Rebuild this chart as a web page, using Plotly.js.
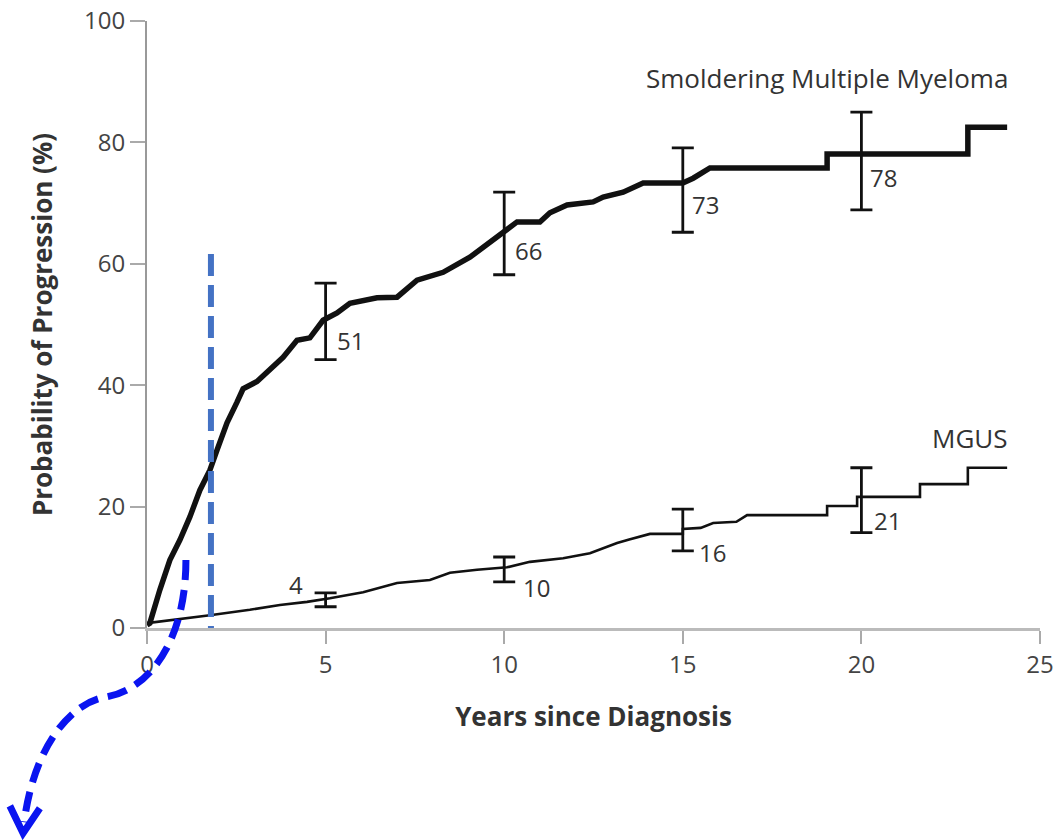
<!DOCTYPE html>
<html>
<head>
<meta charset="utf-8">
<script src="https://cdn.plot.ly/plotly-3.0.1.min.js"></script>
<style>html,body{margin:0;padding:0;background:#fff;}#chart{width:1056px;height:840px;}</style>
</head>
<body>
<div id="chart"></div>
<script>
// ---- data ----
const smmYears = [0, 0.08, 0.36, 0.64, 0.92, 1.20, 1.48, 1.76, 1.96, 2.24, 2.52, 2.69, 3.08, 3.44, 3.81, 4.20, 4.56, 4.93, 5.32, 5.68, 6.44, 7.00, 7.56, 8.29, 9.04, 9.32, 9.97, 10.36, 11.0, 11.28, 11.76, 12.49, 12.77, 13.33, 13.89, 15.0, 15.29, 15.76, 19.04, 19.04, 22.98, 22.98, 24.08];
const smmProb  = [0.5, 0.8, 6.3, 11.2, 14.5, 18.3, 22.7, 26.0, 29.3, 33.8, 37.2, 39.4, 40.6, 42.5, 44.6, 47.4, 47.8, 50.7, 51.9, 53.5, 54.4, 54.5, 57.3, 58.6, 61.1, 62.3, 65.1, 66.9, 66.9, 68.4, 69.7, 70.2, 71.0, 71.8, 73.3, 73.3, 74.1, 75.8, 75.8, 78.1, 78.1, 82.5, 82.5];

const mgusYears = [0, 0.73, 1.76, 2.88, 3.72, 4.48, 5.12, 6.05, 7.0, 7.92, 8.48, 9.24, 10.08, 10.72, 11.65, 12.4, 13.16, 13.5, 14.08, 15.0, 15.0, 15.5, 15.85, 16.5, 16.8, 19.04, 19.04, 19.88, 19.88, 21.64, 21.64, 22.98, 22.98, 24.08];
const mgusProb  = [0.8, 1.3, 2.1, 3.0, 3.8, 4.3, 4.9, 5.9, 7.4, 7.9, 9.1, 9.6, 10.0, 10.9, 11.5, 12.3, 14.0, 14.6, 15.5, 15.5, 16.3, 16.5, 17.3, 17.5, 18.6, 18.6, 20.1, 20.1, 21.6, 21.6, 23.7, 23.7, 26.4, 26.4];

const ciYears   = [5, 10, 15, 20];
const smmLabel  = [51, 66, 73, 78];
const smmUpper  = [56.8, 71.8, 79.1, 85.0];
const smmLower  = [44.2, 58.2, 65.2, 68.9];
const mgusLabel = [4, 10, 16, 21];
const mgusUpper = [5.8, 11.7, 19.6, 26.4];
const mgusLower = [3.5, 7.6, 12.7, 15.7];

const xTicks = [0, 5, 10, 15, 20, 25];
const yTicks = [0, 20, 40, 60, 80, 100];
const seriesNames = ['Smoldering Multiple Myeloma', 'MGUS'];
const seriesNameAt = [[24.1, 90.6], [24.1, 31.3]];
const markerYear = 1.79;      // dashed vertical marker
const markerTop = 61.6;
// curved arrow (in axis units), path commands
const arrowPath = [
  ['M', [1.09, 11.2]],
  ['C', [1.09, -2.0], [0.08, -10.2], [-1.18, -11.4]],
  ['C', [-2.02, -12.2], [-3.14, -18.5], [-3.44, -32.0]]
];
const arrowHead = [[-3.84, -29.3], [-3.47, -33.8], [-3.0, -29.7]];

// ---- layout ----
const FONT = 'Open Sans, Lato, sans-serif';
const xr = [0, 25], yr = [0, 100];
const toPaper = p => [(p[0] - xr[0]) / (xr[1] - xr[0]), (p[1] - yr[0]) / (yr[1] - yr[0])];
const fmt = p => { const q = toPaper(p); return q[0].toFixed(5) + ',' + q[1].toFixed(5); };
const arrowD = arrowPath.map(seg => seg[0] + ' ' + seg.slice(1).map(fmt).join(' ')).join(' ');
const headD = 'M ' + arrowHead.map(fmt).join(' L ');

const traces = [
  {x: mgusYears, y: mgusProb, mode: 'lines', line: {color: '#111', width: 2.6}, hoverinfo: 'skip'},
  {x: smmYears, y: smmProb, mode: 'lines', line: {color: '#111', width: 5.5}, hoverinfo: 'skip'},
  {x: ciYears, y: smmLabel, mode: 'markers', marker: {size: 1, opacity: 0},
   error_y: {type: 'data', symmetric: false,
     array: smmUpper.map((u, i) => u - smmLabel[i]),
     arrayminus: smmLower.map((l, i) => smmLabel[i] - l),
     color: '#111', thickness: 2.8, width: 11}},
  {x: ciYears, y: mgusLabel, mode: 'markers', marker: {size: 1, opacity: 0},
   error_y: {type: 'data', symmetric: false,
     array: mgusUpper.map((u, i) => u - mgusLabel[i]),
     arrayminus: mgusLower.map((l, i) => mgusLabel[i] - l),
     color: '#111', thickness: 2.8, width: 11}}
];

const labelFont = {family: FONT, size: 24, color: '#333'};
const annotations = [];
const smmShift = [[9, -22], [9, -23], [7, -20], [7, -23]];
const mgusShift = [[-39, 19], [17, -20], [14, -22], [11, -20]];
ciYears.forEach((yv, i) => {
  annotations.push({x: yv, y: smmLabel[i], text: String(smmLabel[i]), showarrow: false, xanchor: 'left', yanchor: 'middle', xshift: smmShift[i][0], yshift: smmShift[i][1], font: labelFont});
  annotations.push({x: yv, y: mgusLabel[i], text: String(mgusLabel[i]), showarrow: false, xanchor: 'left', yanchor: 'middle', xshift: mgusShift[i][0], yshift: mgusShift[i][1], font: labelFont});
});
seriesNames.forEach((n, i) => {
  annotations.push({x: seriesNameAt[i][0], y: seriesNameAt[i][1], text: n, showarrow: false, xanchor: 'right', yanchor: 'middle', xshift: 2, font: {family: FONT, size: 26, color: '#333'}});
});

const layout = {
  width: 1056, height: 840,
  margin: {l: 147, r: 16, t: 21, b: 212},
  paper_bgcolor: '#fff', plot_bgcolor: '#fff',
  showlegend: false,
  xaxis: {range: xr, tickvals: xTicks, ticktext: xTicks.map(String), showgrid: false, zeroline: false,
    showline: true, linecolor: '#bbb', linewidth: 3, ticks: 'outside', ticklen: 13, tickwidth: 2, tickcolor: '#aaa',
    tickfont: {family: FONT, size: 24, color: '#444'},
    title: {text: 'Years since Diagnosis', font: {family: FONT, size: 26, color: '#333', weight: 'bold'}, standoff: 30}},
  yaxis: {range: yr, tickvals: yTicks, ticktext: yTicks.map(String), showgrid: false, zeroline: false,
    showline: true, linecolor: '#999', linewidth: 2, ticks: 'outside', ticklen: 15, tickwidth: 2, tickcolor: '#aaa',
    tickfont: {family: FONT, size: 24, color: '#444'},
    title: {text: 'Probability of Progression (%)', font: {family: FONT, size: 26, color: '#333', weight: 'bold'}, standoff: 24}},
  shapes: [
    {type: 'line', xref: 'x', yref: 'y', x0: markerYear, x1: markerYear, y0: markerTop, y1: 0,
     line: {color: '#4472c4', width: 6, dash: '22px,9px'}, layer: 'above'},
    {type: 'path', xref: 'paper', yref: 'paper', path: arrowD, line: {color: '#0a14f0', width: 7, dash: '20px,10px'}, layer: 'above'},
    {type: 'path', xref: 'paper', yref: 'paper', path: headD, line: {color: '#0a14f0', width: 7}, layer: 'above'}
  ],
  annotations: annotations
};

Plotly.newPlot('chart', traces, layout, {staticPlot: true, displayModeBar: false});
</script>
</body>
</html>
